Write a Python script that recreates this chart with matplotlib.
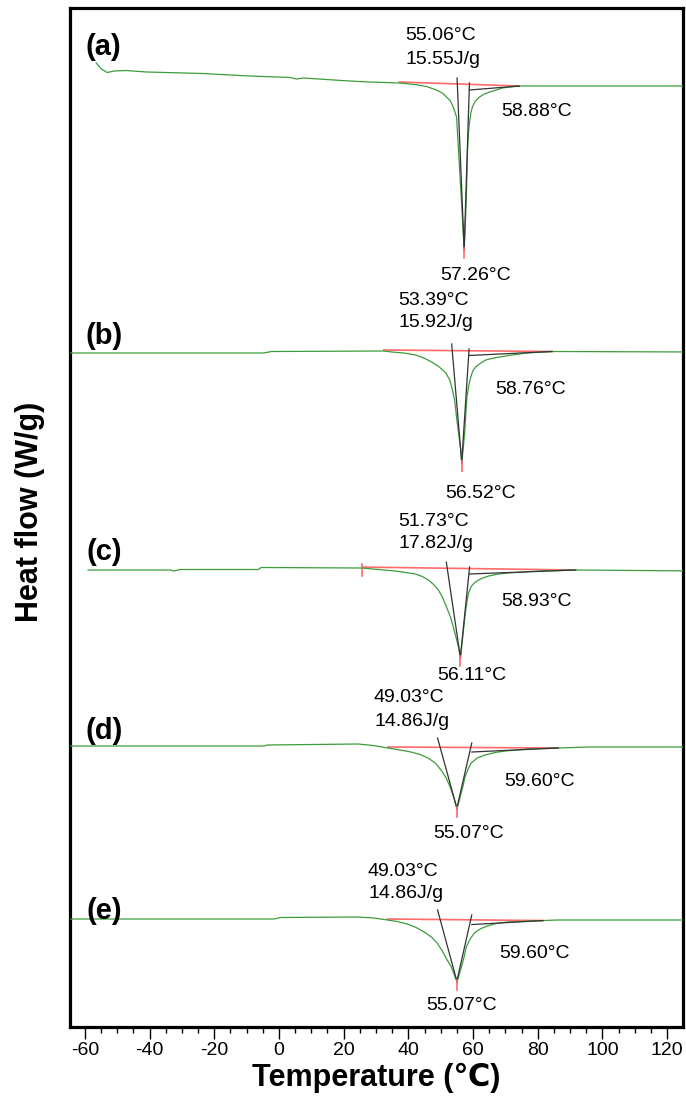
import numpy as np
import matplotlib
matplotlib.use("Agg")
import matplotlib.pyplot as plt

plt.rcParams["font.family"] = ["Liberation Sans", "DejaVu Sans"]
plt.rcParams["axes.unicode_minus"] = False

# DSC heating scans, heat flow relative to each trace's own baseline (W/g)
temp_a = [-56.5, -54.9, -53.1, -50.9, -47.2, -41.0, -23.7, -9.0, 3.5, 5.4, 7.5, 21.8, 27.9,
          37.2, 41.9, 45.6, 48.7, 50.5, 51.8, 53.0, 53.6, 54.2, 54.9, 55.5, 56.4, 57.26,
          57.9, 58.3, 58.6, 58.9, 59.3, 59.8, 60.7, 62.0, 63.5, 65.1, 67.2, 69.1, 71.2, 74.3, 130]
hf_a = [0.23, 0.17, 0.135, 0.15, 0.155, 0.14, 0.125, 0.10, 0.085, 0.07, 0.08, 0.05, 0.04,
        0.03, 0.015, -0.005, -0.04, -0.07, -0.11, -0.15, -0.19, -0.24, -0.31, -0.64, -1.14, -1.64,
        -1.14, -0.64, -0.46, -0.37, -0.27, -0.21, -0.15, -0.11, -0.08, -0.06, -0.04, -0.02, -0.01, 0.0, 0.0]

temp_b = [-70, -4.7, -2.3, 32.4, 34.9, 38.6, 42.3, 44.8, 47.2, 49.4, 51.6, 52.8, 53.4, 54.3,
          55.0, 56.2, 56.52, 57.4, 58.1, 58.7, 59.3, 59.9, 60.8, 62.4, 63.9, 66.4, 70.1, 76.3, 84.4, 130]
hf_b = [-0.01, -0.01, 0.005, 0.01, 0.0, -0.01, -0.03, -0.06, -0.10, -0.145, -0.21, -0.28, -0.35, -0.48,
        -0.68, -0.98, -1.11, -0.81, -0.45, -0.33, -0.25, -0.19, -0.15, -0.11, -0.08, -0.06, -0.04, -0.01, 0.005, 0.0]

temp_c = [-59.0, -33.6, -32.5, -30.5, -6.4, -5.5, 25.5, 30.7, 36.0, 39.1, 42.2, 44.3, 46.2, 47.8,
          49.3, 50.5, 51.8, 53.0, 53.9, 55.5, 56.11, 56.7, 57.6, 58.1, 58.6, 59.5, 60.7, 62.6,
          64.8, 67.9, 70.9, 75.6, 81.2, 91.7, 130]
hf_c = [0.0, 0.0, -0.01, 0.005, 0.005, 0.025, 0.02, 0.005, -0.01, -0.025, -0.04, -0.065, -0.10, -0.145,
        -0.20, -0.27, -0.37, -0.47, -0.57, -0.77, -0.88, -0.70, -0.43, -0.32, -0.23, -0.16, -0.12, -0.085,
        -0.06, -0.04, -0.03, -0.02, -0.01, 0.0, -0.01]

temp_d = [-70, -4.6, -3.5, 24.5, 29.1, 33.7, 37.4, 40.8, 43.6, 46.1, 48.3, 50.1, 51.7, 52.9, 53.8,
          54.5, 55.07, 56.0, 56.9, 57.5, 58.5, 59.4, 61.3, 63.7, 66.8, 69.9, 77.0, 86.3, 95.6, 130]
hf_d = [0.0, 0.0, 0.01, 0.02, 0.005, -0.02, -0.04, -0.06, -0.085, -0.12, -0.17, -0.24, -0.32, -0.41, -0.49,
        -0.57, -0.63, -0.51, -0.40, -0.31, -0.23, -0.17, -0.12, -0.09, -0.065, -0.05, -0.03, -0.02, -0.01, -0.01]

temp_e = [-70, -1.5, 0.5, 24.2, 29.4, 33.5, 36.6, 39.7, 42.4, 44.9, 47.1, 48.9, 50.5, 52.0, 53.3,
          54.2, 55.07, 56.4, 57.3, 57.9, 59.1, 60.4, 62.2, 64.4, 67.2, 70.6, 78.0, 86.1, 130]
hf_e = [-0.01, -0.01, 0.005, 0.01, 0.0, -0.02, -0.035, -0.06, -0.095, -0.14, -0.19, -0.25, -0.33, -0.42,
        -0.49, -0.57, -0.64, -0.49, -0.38, -0.29, -0.21, -0.15, -0.11, -0.08, -0.055, -0.04, -0.03, -0.02, -0.02]

temps = [temp_a, temp_b, temp_c, temp_d, temp_e]
flows = [hf_a, hf_b, hf_c, hf_d, hf_e]
offsets = [9.41, 6.75, 4.57, 2.81, 1.09]
panel = ["(a)", "(b)", "(c)", "(d)", "(e)"]

onset = [55.06, 53.39, 51.73, 49.03, 49.03]
peak = [57.26, 56.52, 56.11, 55.07, 55.07]
endset = [58.88, 58.76, 58.93, 59.60, 59.60]
enthalpy = [15.55, 15.92, 17.82, 14.86, 14.86]
# integration limits of the melting peak
int_lo = [37.2, 32.4, 25.8, 33.7, 33.5]
int_hi = [74.3, 84.4, 91.7, 86.3, 81.6]

W, H = 686, 1098
fig = plt.figure(figsize=(W / 100, H / 100), dpi=100)
ax = fig.add_axes([70 / W, 1 - 1027 / H, 613 / W, 1019 / H])

green = "#3c9c3c"
red = "#ff6a6a"
dark = "#333333"

for i in range(5):
    t = np.array(temps[i])
    y = np.array(flows[i]) + offsets[i]
    ax.plot(t, y, color=green, lw=0.9, zorder=3)

    # integration baseline
    y_lo = np.interp(int_lo[i], t, y)
    y_hi = np.interp(int_hi[i], t, y)
    ax.plot([int_lo[i], int_hi[i]], [y_lo + 0.01, y_hi], color=red, lw=1.2, zorder=2)

    # onset / endset tangents meeting at the peak
    tip = np.interp(peak[i], t, y)
    ax.plot([onset[i], peak[i]], [offsets[i] + 0.08, tip], color=dark, lw=0.9, zorder=4)
    ax.plot([endset[i], peak[i]], [offsets[i] + 0.03, tip + 0.02], color=dark, lw=0.9, zorder=4)
    ax.plot([endset[i], int_hi[i]], [y_hi - 0.04, y_hi], color=dark, lw=0.9, zorder=4)
    ax.plot([peak[i], peak[i]], [tip + 0.02, tip - 0.08], color=red, lw=1.2, zorder=5)

# start marker of the integration range on trace (c)
ax.plot([int_lo[2], int_lo[2]], [offsets[2] - 0.06, offsets[2] + 0.06], color=red, lw=1.2)

ax.set_xlim(-64.6, 124.9)
ax.set_ylim(0, 10.19)
ax.set_xticks(np.arange(-60, 121, 20))
ax.set_xticks(np.arange(-60, 125, 5), minor=True)
ax.set_yticks([])
ax.tick_params(axis="x", which="major", direction="out", length=8.5, width=1, pad=2, labelsize=14)
ax.tick_params(axis="x", which="minor", direction="out", length=4.5, width=1)
for s in ax.spines.values():
    s.set_linewidth(2.3)
ax.set_xlabel("Temperature (℃)", fontsize=22, fontweight="bold", labelpad=3)


def px_text(x, y, s, **kw):
    fig.text(x / W, 1 - y / H, s, **kw)


fig.text(30 / W, 1 - 512 / H, "Heat flow (W/g)", rotation=90, fontsize=22,
         fontweight="bold", ha="center", va="center")

panel_pos = [(103, 47), (104, 336), (104, 552), (104, 731), (104, 911)]
for (x, y), lab in zip(panel_pos, panel):
    px_text(x, y, lab, fontsize=21, fontweight="bold", ha="center", va="center")

# onset temperature and enthalpy (left-aligned pair), endset, peak
pair_pos = [(405, 36), (398, 300), (398, 521), (374, 698), (368, 871)]
end_pos = [(537, 111), (531, 389), (536, 601), (539, 781), (534, 953)]
peak_pos = [(476, 275), (481, 494), (472, 676), (469, 834), (462, 1006)]
for i in range(5):
    x, y = pair_pos[i]
    px_text(x, y, f"{onset[i]:.2f}°C", fontsize=14, ha="left", va="center")
    px_text(x, y + 23, f"{enthalpy[i]:.2f}J/g", fontsize=14, ha="left", va="center")
    x, y = end_pos[i]
    px_text(x, y, f"{endset[i]:.2f}°C", fontsize=14, ha="center", va="center")
    x, y = peak_pos[i]
    px_text(x, y, f"{peak[i]:.2f}°C", fontsize=14, ha="center", va="center")

fig.savefig("out.png", dpi=100)
